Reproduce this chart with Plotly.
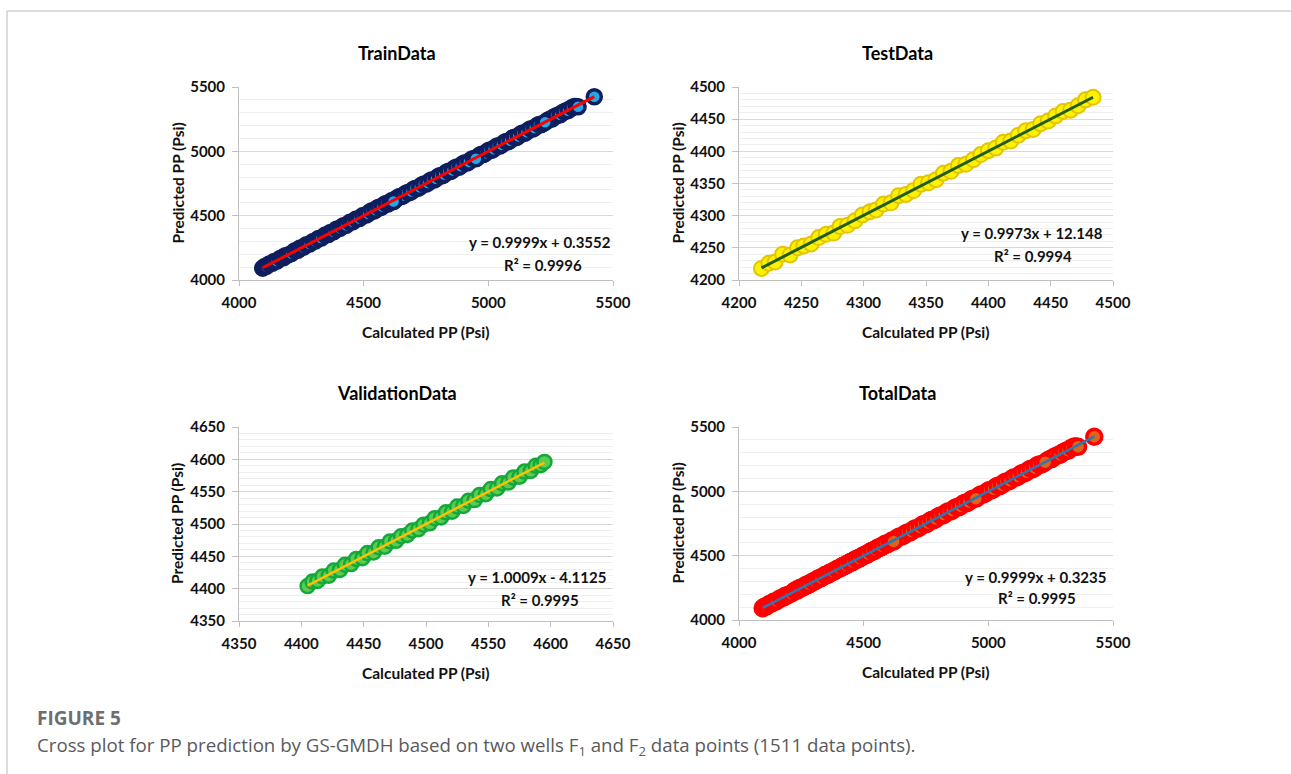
import plotly.graph_objects as go
import numpy as np

# ---------------- data ----------------
train_calc = [4095, 4102, 4110, 4121, 4133, 4140, 4152, 4166, 4178, 4185,
              4197, 4210, 4224, 4236, 4245, 4258, 4270, 4283, 4297, 4306,
              4318, 4330, 4345, 4358, 4366, 4379, 4392, 4405, 4418, 4430,
              4444, 4456, 4470, 4483, 4497, 4510, 4526, 4540, 4555, 4568,
              4583, 4597, 4635, 4652, 4668, 4684, 4700, 4717, 4733, 4750,
              4766, 4782, 4799, 4815, 4832, 4848, 4865, 4881, 4898, 4914,
              4931, 4964, 4980, 4997, 5013, 5030, 5046, 5063, 5079, 5096,
              5112, 5129, 5145, 5162, 5178, 5195, 5211, 5248, 5262, 5280,
              5296, 5312, 5328, 5345,
              4518, 4533, 4548, 4561, 4575, 4590, 4605, 4613, 4627, 4643,
              4660, 4676, 4692, 4708, 4725, 4741, 4758, 4774, 4790, 4807,
              4823, 4840, 4856, 4873, 4889, 4906, 4922, 4940, 4957, 4972,
              4988, 5005, 5021, 5038, 5054, 5071, 5087, 5104, 5120, 5137,
              5153, 5170, 5186, 5203, 5219, 5238, 5255, 5271, 5288, 5304,
              5320, 5336, 5352,
              4620, 4950, 5228, 5360, 5425]
train_pred = [4092, 4104, 4106, 4125, 4130, 4143, 4148, 4170, 4173, 4189,
              4195, 4206, 4228, 4231, 4249, 4255, 4274, 4279, 4300, 4303,
              4322, 4326, 4349, 4354, 4370, 4375, 4396, 4401, 4422, 4426,
              4448, 4452, 4474, 4478, 4501, 4505, 4531, 4535, 4560, 4563,
              4588, 4591, 4640, 4648, 4673, 4679, 4705, 4712, 4738, 4745,
              4771, 4777, 4804, 4810, 4837, 4843, 4870, 4876, 4903, 4909,
              4936, 4969, 4975, 5002, 5008, 5035, 5041, 5068, 5074, 5101,
              5107, 5134, 5140, 5167, 5173, 5200, 5206, 5252, 5266, 5283,
              5299, 5316, 5331, 5349,
              4514, 4538, 4544, 4566, 4571, 4595, 4601, 4618, 4623, 4648,
              4656, 4681, 4688, 4713, 4721, 4746, 4754, 4779, 4786, 4812,
              4819, 4845, 4852, 4878, 4885, 4911, 4918, 4945, 4953, 4977,
              4984, 5010, 5017, 5043, 5050, 5076, 5083, 5109, 5116, 5142,
              5149, 5175, 5182, 5208, 5215, 5242, 5251, 5275, 5284, 5308,
              5316, 5340, 5348,
              4610, 4942, 5226, 5347, 5424]

test_calc = [4218, 4224, 4229, 4235, 4241, 4247, 4252, 4258, 4264, 4270,
             4276, 4281, 4287, 4293, 4299, 4305, 4310, 4316, 4322, 4328,
             4334, 4340, 4346, 4352, 4358, 4364, 4370, 4376, 4382, 4388,
             4394, 4400, 4406, 4412, 4418, 4424, 4430, 4436, 4442, 4448,
             4454, 4460, 4466, 4472, 4478, 4484]
test_pred = [4218, 4226, 4228, 4240, 4239, 4250, 4253, 4256, 4266, 4271,
             4273, 4283, 4285, 4292, 4301, 4306, 4309, 4318, 4320, 4331,
             4333, 4339, 4349, 4351, 4356, 4366, 4369, 4378, 4380, 4387,
             4395, 4401, 4405, 4414, 4416, 4425, 4432, 4434, 4443, 4447,
             4455, 4462, 4464, 4471, 4480, 4484]

val_calc = [4405, 4409, 4413, 4417, 4422, 4426, 4431, 4435, 4440, 4444,
            4449, 4453, 4458, 4462, 4467, 4471, 4476, 4480, 4485, 4489,
            4494, 4498, 4503, 4507, 4512, 4516, 4521, 4525, 4530, 4534,
            4539, 4543, 4548, 4552, 4557, 4561, 4566, 4570, 4575, 4579,
            4584, 4588, 4592, 4595]
val_pred = [4404, 4411, 4412, 4419, 4420, 4428, 4429, 4437, 4438, 4446,
            4447, 4455, 4456, 4464, 4465, 4473, 4474, 4481, 4483, 4490,
            4492, 4499, 4501, 4509, 4510, 4518, 4519, 4527, 4528, 4536,
            4537, 4545, 4546, 4554, 4555, 4563, 4564, 4572, 4573, 4581,
            4582, 4590, 4591, 4596]

# total = union of the three sets
total_calc = test_calc + val_calc + train_calc
total_pred = test_pred + val_pred + train_pred

panel_titles = ["TrainData", "TestData", "ValidationData", "TotalData"]
fit_slopes = [0.9999, 0.9973, 1.0009, 0.9999]
fit_intercepts = [0.3552, 12.148, -4.1125, 0.3235]
eq_labels = ["y = 0.9999x + 0.3552", "y = 0.9973x + 12.148",
             "y = 1.0009x - 4.1125", "y = 0.9999x + 0.3235"]
r2_labels = ["R² = 0.9996", "R² = 0.9994", "R² = 0.9995", "R² = 0.9995"]
axis_ranges = [[4000, 5500], [4200, 4500], [4350, 4650], [4000, 5500]]
major_steps = [500, 50, 50, 500]
minor_steps = [100, 10, 10, 100]
x_title = "Calculated PP (Psi)"
y_title = "Predicted PP (Psi)"
caption_head = "FIGURE 5"
caption_text = ("Cross plot for PP prediction by GS-GMDH based on two wells F<sub>1</sub> "
                "and F<sub>2</sub> data points (1511 data points).")

# ---------------- styling ----------------
W, H = 1291, 774
FONT = "Lato"
series = [(train_calc, train_pred), (test_calc, test_pred),
          (val_calc, val_pred), (total_calc, total_pred)]
marker_fill = ["#22A9E6", "#FFF200", "#5CCB4E", "#D9661C"]
marker_edge = ["#0E1E5E", "#E2C400", "#13A83C", "#FF0000"]
marker_size = [14, 15, 14, 15]
marker_lw = [3.5, 2, 2.5, 3.5]
fit_color = ["#FF0000", "#1F5E1A", "#FFC000", "#2E75B6"]
fit_width = [3, 3, 2.5, 2.5]

# pixel boxes of the plot areas: (left, right, top, bottom)
boxes = [(239, 613, 87, 280), (739, 1113, 87, 280),
         (239, 613, 427, 621), (739, 1113, 427, 620)]

fig = go.Figure()
layout = dict(width=W, height=H,
              margin=dict(l=0, r=0, t=0, b=0, pad=0, autoexpand=False),
              paper_bgcolor="white", plot_bgcolor="white", showlegend=False,
              font=dict(family=FONT, color="#000000"))
annotations = []
shapes = []
tick_font = dict(family=FONT, size=15, color="#111111", weight="bold")
title_font = dict(family=FONT, size=15.5, color="#111111", weight="bold")

for i, ((xs, ys), box) in enumerate(zip(series, boxes)):
    n = "" if i == 0 else str(i + 1)
    xa, ya = "x" + n, "y" + n
    l, r, t, b = box
    xdom = [l / W, r / W]
    ydom = [1 - b / H, 1 - t / H]
    rng = axis_ranges[i]
    layout["xaxis" + n] = dict(
        domain=xdom, range=rng, anchor=ya, dtick=major_steps[i], tick0=rng[0],
        showgrid=False, zeroline=False, showline=True, linecolor="#BFBFBF",
        linewidth=1, ticks="outside", ticklen=5, tickcolor="#BFBFBF",
        tickfont=tick_font, ticklabelstandoff=4, fixedrange=True, automargin=False)
    layout["yaxis" + n] = dict(
        domain=ydom, range=rng, anchor=xa, dtick=major_steps[i], tick0=rng[0],
        showgrid=True, gridcolor="#D9D9D9", gridwidth=1, zeroline=False,
        showline=True, linecolor="#BFBFBF", linewidth=1, ticks="outside",
        ticklen=6, tickcolor="#BFBFBF", tickfont=tick_font, ticklabelstandoff=4,
        minor=dict(dtick=minor_steps[i], showgrid=True, gridcolor="#EFEFEF",
                   gridwidth=1, ticks=""),
        fixedrange=True, automargin=False)

    fig.add_trace(go.Scatter(
        x=xs, y=ys, mode="markers", xaxis=xa, yaxis=ya,
        marker=dict(size=marker_size[i], color=marker_fill[i],
                    line=dict(color=marker_edge[i], width=marker_lw[i])),
        hoverinfo="skip"))

    # linear trend line from the printed fit coefficients
    xfit = np.array([min(xs), max(xs)], dtype=float)
    yfit = fit_slopes[i] * xfit + fit_intercepts[i]
    fig.add_trace(go.Scatter(
        x=xfit, y=yfit, mode="lines", xaxis=xa, yaxis=ya,
        line=dict(color=fit_color[i], width=fit_width[i]), hoverinfo="skip"))

    # equation + R2 labels
    eq_y = [0.197, 0.243, 0.225, 0.224][i]
    r2_x = [0.813, 0.786, 0.805, 0.796][i]
    r2_y = [0.078, 0.124, 0.107, 0.114][i]
    eq_x = [1.0, 0.979, 0.987, 0.987][i]
    annotations.append(dict(text=eq_labels[i], xref=xa + " domain", yref=ya + " domain",
                            x=eq_x, y=eq_y, xanchor="right", yanchor="middle",
                            showarrow=False, font=tick_font))
    annotations.append(dict(text=r2_labels[i], xref=xa + " domain", yref=ya + " domain",
                            x=r2_x, y=r2_y, xanchor="center", yanchor="middle",
                            showarrow=False, font=tick_font))

    # panel title
    cx = (l + r) / 2 - 29
    annotations.append(dict(text=panel_titles[i], xref="paper", yref="paper",
                            x=cx / W, y=1 - (t - 34) / H, xanchor="center", yanchor="middle",
                            showarrow=False,
                            font=dict(family=FONT, size=18, color="#000000", weight="bold")))
    # axis titles
    annotations.append(dict(text=x_title, xref="paper", yref="paper",
                            x=(l + r) / 2 / W, y=1 - (b + 52) / H,
                            xanchor="center", yanchor="middle", showarrow=False,
                            font=title_font))
    annotations.append(dict(text=y_title, xref="paper", yref="paper",
                            x=(l - 62) / W, y=1 - (t + b) / 2 / H, textangle=-90,
                            xanchor="center", yanchor="middle", showarrow=False,
                            font=title_font))

# caption
annotations.append(dict(text=caption_head, xref="paper", yref="paper",
                        x=35 / W, y=1 - 718 / H, xanchor="left", yanchor="middle",
                        showarrow=False,
                        font=dict(family="Open Sans", size=19, color="#6D6E71", weight="bold")))
annotations.append(dict(text=caption_text, xref="paper", yref="paper",
                        x=35 / W, y=1 - 746 / H, xanchor="left", yanchor="middle",
                        showarrow=False,
                        font=dict(family="Open Sans", size=18.7, color="#5A5A5C")))

# figure frame (top and left rules)
shapes.append(dict(type="line", xref="paper", yref="paper",
                   x0=7 / W, x1=1.0, y0=1 - 11 / H, y1=1 - 11 / H,
                   line=dict(color="#CFCFCF", width=1.5)))
shapes.append(dict(type="line", xref="paper", yref="paper",
                   x0=7 / W, x1=7 / W, y0=0, y1=1 - 11 / H,
                   line=dict(color="#CFCFCF", width=1.5)))

layout["annotations"] = annotations
layout["shapes"] = shapes
fig.update_layout(**layout)
fig.write_html(
    "out.html",
    config={"displayModeBar": False},
    post_script="document.body.style.margin='0';document.body.style.padding='0';"
                "document.body.style.overflow='hidden';"
                "document.documentElement.style.overflow='hidden';")
